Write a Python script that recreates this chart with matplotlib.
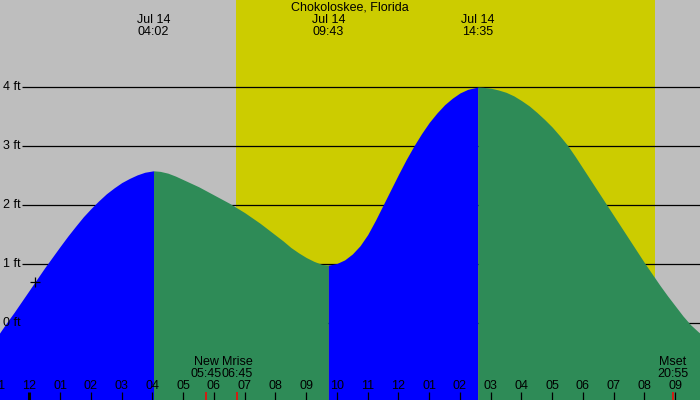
import matplotlib
matplotlib.use("Agg")
import matplotlib.pyplot as plt
import numpy as np
from matplotlib.transforms import blended_transform_factory

# tide height: hours after midnight Jul 14 -> feet
hours = [-1, -0.75, -0.5, -0.25, 0, 0.25, 0.5, 0.75, 1, 1.25, 1.5, 1.75, 2, 2.25,
         2.5, 2.75, 3, 3.25, 3.5, 3.75, 4.033,
         4.25, 4.5, 4.75, 5, 5.25, 5.5, 5.75, 6, 6.25, 6.5, 6.75, 7, 7.25, 7.5, 7.75,
         8, 8.25, 8.5, 8.75, 9, 9.25, 9.5, 9.717,
         10, 10.25, 10.5, 10.75, 11, 11.25, 11.5, 11.75, 12, 12.25, 12.5, 12.75, 13,
         13.25, 13.5, 13.75, 14, 14.25, 14.583,
         14.75, 15, 15.25, 15.5, 15.75, 16, 16.25, 16.5, 16.75, 17, 17.25, 17.5, 17.75,
         18, 18.25, 18.5, 18.75, 19, 19.25, 19.5, 19.75, 20, 20.25, 20.5, 20.75, 21,
         21.25, 21.5, 21.75, 22]
feet = [-0.19, 0.00, 0.18, 0.37, 0.56, 0.75, 0.94, 1.12, 1.30, 1.475, 1.64, 1.80, 1.94, 2.07,
        2.19, 2.29, 2.38, 2.45, 2.51, 2.555, 2.58,
        2.57, 2.54, 2.49, 2.43, 2.37, 2.31, 2.24, 2.17, 2.10, 2.03, 1.95, 1.87, 1.78, 1.69, 1.59,
        1.49, 1.39, 1.28, 1.19, 1.11, 1.045, 0.995, 0.98,
        1.01, 1.07, 1.17, 1.31, 1.50, 1.74, 2.00, 2.26, 2.52, 2.77, 3.00, 3.21, 3.40,
        3.56, 3.70, 3.81, 3.90, 3.96, 4.00,
        3.995, 3.98, 3.95, 3.91, 3.85, 3.77, 3.68, 3.57, 3.45, 3.32, 3.17, 3.01, 2.82,
        2.62, 2.42, 2.22, 2.02, 1.82, 1.62, 1.42, 1.22, 1.02, 0.83, 0.64, 0.46, 0.29,
        0.12, -0.03, -0.15, -0.25]

# high / low tides
extreme_times = [4.033, 9.717, 14.583]
extreme_labels = ["04:02", "09:43", "14:35"]

sunrise = 6.72
sunset = 20.34

moon_times = [5.75, 6.75, 20.917]
moon_names = ["New", "Mrise", "Mset"]
moon_labels = ["05:45", "06:45", "20:55"]

hour_ticks = list(range(-1, 22))
ft_levels = [0, 1, 2, 3, 4]
marker_pt = (0.18, 0.70)

GRAY = "#bebebe"
YELLOW = "#cccc00"
BLUE = "#0000ff"
GREEN = "#2e8b57"

plt.rcParams["font.family"] = ["Liberation Sans", "DejaVu Sans"]
fs = 9

fig = plt.figure(figsize=(7, 4), dpi=100)
fig.patch.set_facecolor(GRAY)
ax = fig.add_axes([0, 0, 1, 1])
ax.set_facecolor(GRAY)
ax.set_xlim(-0.959, 21.805)
ax.set_ylim(-1.305, 5.475)
ax.axis("off")
bt = blended_transform_factory(ax.transData, ax.transAxes)

# daylight
ax.axvspan(sunrise, sunset, color=YELLOW, lw=0, zorder=1)

# depth lines
ax.hlines(ft_levels, -0.24, 21.805, color="black", lw=0.9, zorder=2)
for lv in ft_levels:
    ax.text(0.004, lv, f"{lv} ft", transform=blended_transform_factory(ax.transAxes, ax.transData),
            ha="left", va="center", fontsize=fs, zorder=6)

# tide fill, blue while rising, green while falling
h = np.array(hours)
f = np.array(feet)
cuts = [0] + [int(np.argmin(np.abs(h - t))) for t in extreme_times] + [len(h) - 1]
for a, b in zip(cuts[:-1], cuts[1:]):
    col = BLUE if f[b] > f[a] else GREEN
    ax.fill_between(h[a:b + 1], f[a:b + 1], -1.305, color=col, lw=0, zorder=3)

ax.plot(*marker_pt, marker="+", color="black", ms=7, mew=0.9, zorder=6)

# top labels
ax.text(0.5, 0.98, "Chokoloskee, Florida", transform=ax.transAxes,
        ha="center", va="center", fontsize=fs)
for t, lab in zip(extreme_times, extreme_labels):
    ax.text(t, 0.951, "Jul 14", transform=bt, ha="center", va="center", fontsize=fs)
    ax.text(t, 0.921, lab, transform=bt, ha="center", va="center", fontsize=fs)

# hour axis
for hr in hour_ticks:
    ax.text(hr, 0.035, f"{(hr % 12) or 12:02d}", transform=bt,
            ha="center", va="center", fontsize=fs, zorder=6)
    ax.vlines(hr, 0, 0.02, transform=bt, color="black",
              lw=2.2 if hr == 0 else 0.9, zorder=6)

# moon events
for t, name, lab in zip(moon_times, moon_names, moon_labels):
    ax.vlines(t, 0, 0.02, transform=bt, color="red", lw=1.1, zorder=6)
    ax.text(t, 0.095, name, transform=bt, ha="center", va="center", fontsize=fs, zorder=6)
    ax.text(t, 0.065, lab, transform=bt, ha="center", va="center", fontsize=fs, zorder=6)

fig.savefig("out.png", dpi=100, facecolor=GRAY)
